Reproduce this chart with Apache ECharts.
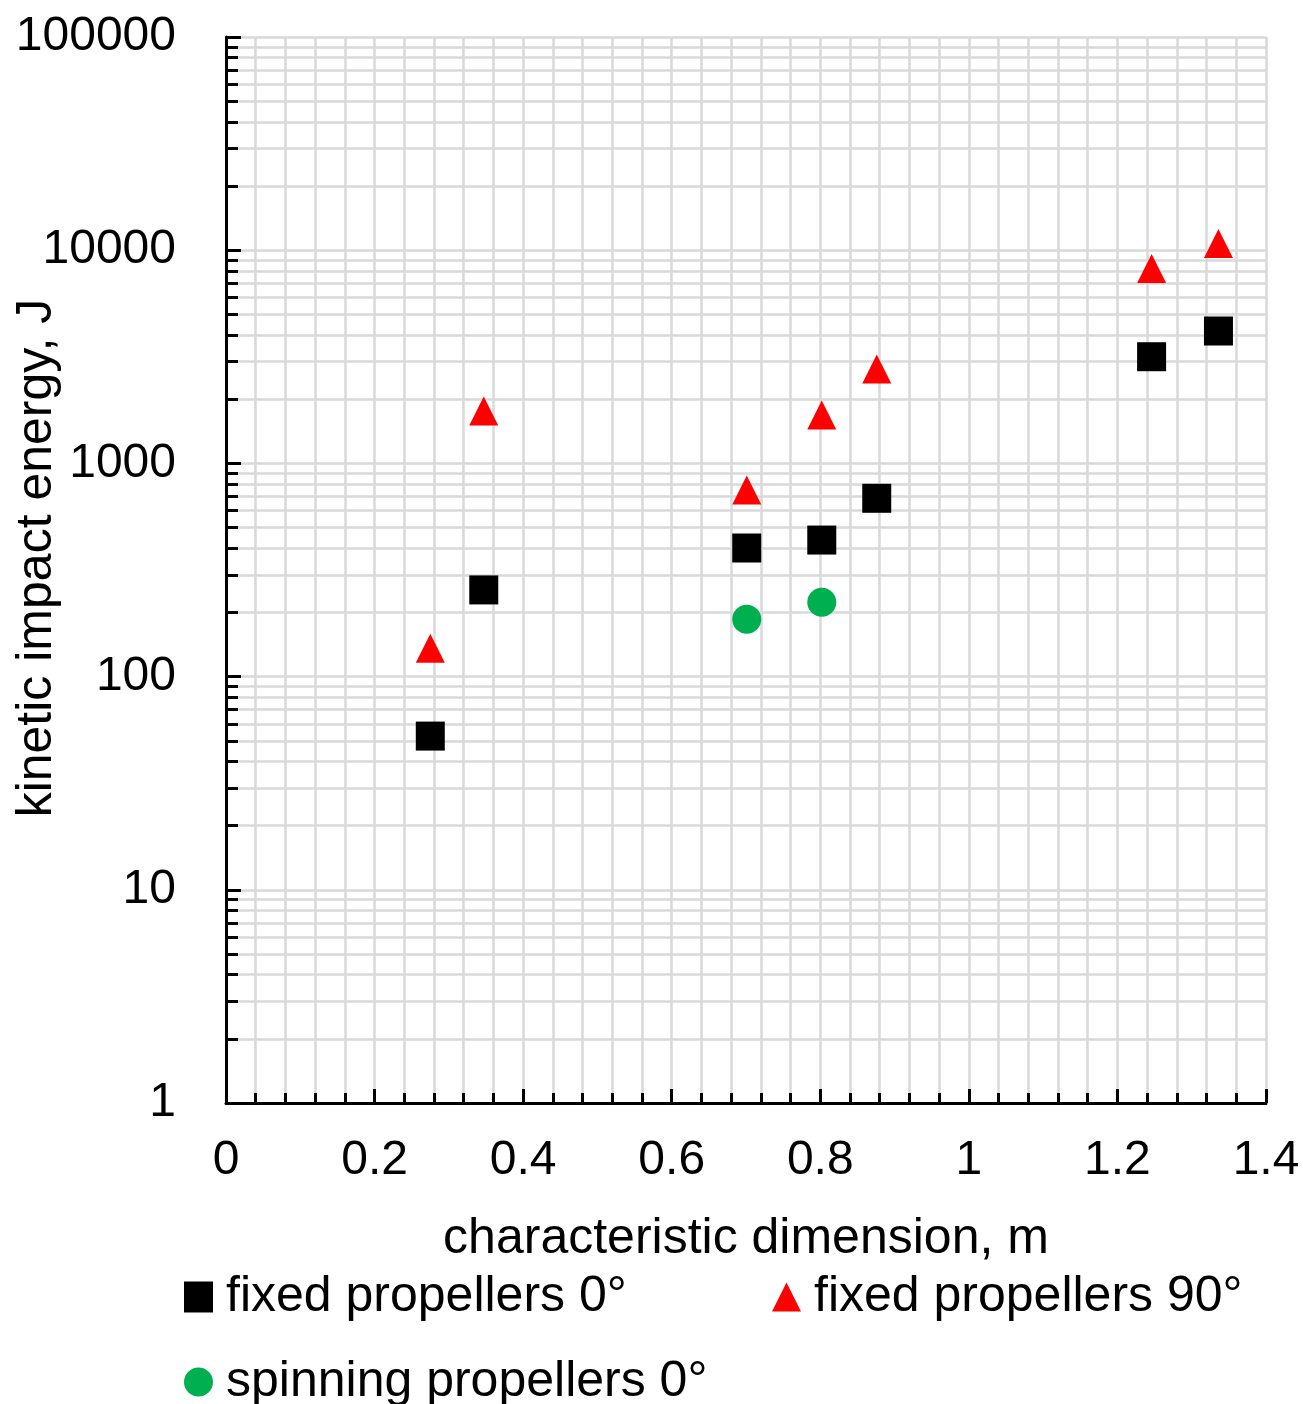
<!DOCTYPE html>
<html>
<head>
<meta charset="utf-8">
<script src="https://cdn.jsdelivr.net/npm/echarts@6/dist/echarts.min.js"></script>
<style>
html,body{margin:0;padding:0;background:#fff;}
#chart{width:1303px;height:1404px;}
</style>
</head>
<body>
<div id="chart"></div>
<script>
// ---- data ----
const xFixed = [0.275, 0.347, 0.701, 0.802, 0.876, 1.246, 1.336];
const yFixed0 = [52.6, 255, 401, 437, 686, 3165, 4178];
const yFixed90 = [136, 1762, 750, 1687, 2772, 8205, 10750];
const xSpin = [0.701, 0.802];
const ySpin0 = [186, 223];
const yMajorTicks = [1, 10, 100, 1000, 10000, 100000];
const yMinorTicks = [2,3,4,5,6,7,8,9,20,30,40,50,60,70,80,90,200,300,400,500,600,700,800,900,
  2000,3000,4000,5000,6000,7000,8000,9000,20000,30000,40000,50000,60000,70000,80000,90000];
const seriesNames = ['fixed propellers 0°', 'fixed propellers 90°', 'spinning propellers 0°'];
const xTitle = 'characteristic dimension, m';
const yTitle = 'kinetic impact energy, J';

const zip = (xs, ys) => xs.map((x, i) => [x, ys[i]]);
const FONT = '"Liberation Sans", Arial, sans-serif';
const GRID = '#d9d9d9';

const chart = echarts.init(document.getElementById('chart'), null, {renderer: 'canvas'});
const legendText = {color: '#000', fontSize: 50, fontFamily: FONT, padding: [0, 0, 0, 8]};
chart.setOption({
  animation: false,
  backgroundColor: '#fff',
  grid: {left: 226, right: 37, top: 37, bottom: 301, containLabel: false, outerBoundsMode: 'none'},
  xAxis: {
    type: 'value', min: 0, max: 1.4, interval: 0.2,
    name: xTitle, nameLocation: 'middle', nameGap: 111, nameMoveOverlap: false,
    nameTextStyle: {color: '#000', fontSize: 50, fontFamily: FONT},
    axisLine: {show: true, onZero: false, lineStyle: {color: '#000', width: 3}},
    axisTick: {show: true, inside: true, length: 14, lineStyle: {color: '#000', width: 3}},
    minorTick: {show: true, splitNumber: 5, length: 10, lineStyle: {color: '#000', width: 3}},
    splitLine: {show: true, lineStyle: {color: GRID, width: 2.5}},
    minorSplitLine: {show: true, lineStyle: {color: GRID, width: 2.5}},
    axisLabel: {color: '#000', fontSize: 48, fontFamily: FONT, margin: 34,
      formatter: v => String(Math.round(v * 10) / 10)}
  },
  yAxis: [{
    type: 'log', logBase: 10, min: 1, max: 100000,
    name: yTitle, nameLocation: 'middle', nameGap: 164, nameRotate: 90, nameMoveOverlap: false,
    nameTextStyle: {color: '#000', fontSize: 50, fontFamily: FONT, padding: [0, 0, 0, 24]},
    axisLine: {show: true, onZero: false, lineStyle: {color: '#000', width: 3}},
    axisTick: {show: true, inside: true, length: 15, customValues: yMajorTicks, lineStyle: {color: '#000', width: 3}},
    splitLine: {show: true, lineStyle: {color: GRID, width: 2.5}},
    axisLabel: {color: '#000', fontSize: 48, fontFamily: FONT, margin: 50, customValues: yMajorTicks,
      formatter: v => String(Math.round(v))}
  }, {
    type: 'log', logBase: 10, min: 1, max: 100000, position: 'left',
    axisLine: {show: false},
    axisTick: {show: true, inside: true, length: 12, customValues: yMinorTicks, lineStyle: {color: '#000', width: 3}},
    splitLine: {show: true, lineStyle: {color: GRID, width: 2.5}},
    axisLabel: {show: false}
  }],
  legend: [
    {data: [{name: seriesNames[0], icon: 'rect'}], left: 184, top: 1272, padding: 0, itemWidth: 29, itemHeight: 31, textStyle: legendText, selectedMode: false},
    {data: [{name: seriesNames[1], icon: 'triangle'}], left: 772, top: 1272, padding: 0, itemWidth: 29, itemHeight: 29, textStyle: legendText, selectedMode: false},
    {data: [{name: seriesNames[2], icon: 'circle'}], left: 184, top: 1357, padding: 0, itemWidth: 29, itemHeight: 29, textStyle: legendText, selectedMode: false}
  ],
  series: [
    {name: seriesNames[0], type: 'scatter', symbol: 'rect', symbolSize: 29, data: zip(xFixed, yFixed0),
      itemStyle: {color: '#000', opacity: 1}, z: 3},
    {name: seriesNames[1], type: 'scatter', symbol: 'triangle', symbolSize: 29, data: zip(xFixed, yFixed90),
      itemStyle: {color: '#ff0000', opacity: 1}, z: 3},
    {name: seriesNames[2], type: 'scatter', symbol: 'circle', symbolSize: 29, data: zip(xSpin, ySpin0),
      itemStyle: {color: '#00b050', opacity: 1}, z: 3}
  ]
});
</script>
</body>
</html>
